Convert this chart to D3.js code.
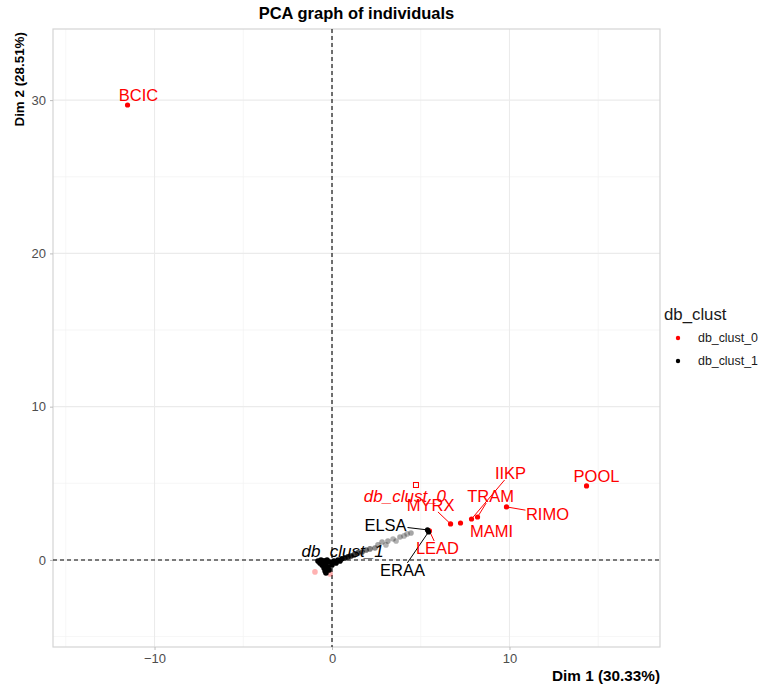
<!DOCTYPE html>
<html>
<head>
<meta charset="utf-8">
<script src="https://cdn.jsdelivr.net/npm/d3@7"></script>
<style>
  body { margin: 0; background: #fff; }
  text { font-family: "Liberation Sans", Arial, sans-serif; }
</style>
</head>
<body>
<svg id="chart"></svg>
<script>
// labelled individuals (cluster, Dim1, Dim2)
var names = ['BCIC', 'POOL', 'RIMO', 'IIKP', 'TRAM', 'MAMI', 'MYRX', 'LEAD', 'ELSA', 'ERAA'];
var nameCluster = ['db_clust_0', 'db_clust_0', 'db_clust_0', 'db_clust_0', 'db_clust_0', 'db_clust_0', 'db_clust_0', 'db_clust_0', 'db_clust_1', 'db_clust_1'];
var nameDim1 = [-11.52, 14.34, 9.83, 7.86, 8.2, 7.24, 6.68, 5.49, 5.38, 5.44];
var nameDim2 = [29.68, 4.83, 3.46, 2.67, 2.8, 2.41, 2.35, 1.89, 1.96, 1.83];

// unlabelled individuals (cos2 drives transparency)
var restCluster = ['db_clust_0', 'db_clust_0'].concat(d3.range(38).map(() => 'db_clust_1'));
var restDim1 = [-0.96, -0.11,
  -0.79, -0.68, -0.56, -0.45, -0.39, -0.34, -0.62, -0.45, -0.34, -0.23,
  -0.17, -0.28, -0.11, 0.0, 0.11, 0.23, 0.34, 0.45, 0.56, 0.73,
  0.9, 1.07, 1.24, 1.46, 1.69, 1.92, 2.14, 2.42,
  2.59, 2.82, 3.04, 3.15, 3.44, 3.61, 3.83, 4.06, 4.23, 4.45];
var restDim2 = [-0.78, -0.91,
  -0.07, -0.2, -0.33, -0.52, -0.72, -0.85, 0.0, -0.07, -0.26, -0.46,
  -0.65, 0.0, -0.13, -0.33, -0.07, -0.2, 0.0, -0.07, 0.07, 0.13,
  0.2, 0.26, 0.33, 0.46, 0.52, 0.65, 0.72, 0.78,
  0.98, 1.17, 0.98, 1.24, 1.37, 1.24, 1.5, 1.57, 1.7, 1.76];
var restCos2 = [0.3, 0.3,
  1, 1, 1, 1, 1, 1, 1, 1, 1, 1,
  1, 1, 1, 1, 1, 1, 1, 1, 1, 0.9,
  0.85, 0.8, 0.75, 0.7, 0.6, 0.55, 0.5, 0.45,
  0.35, 0.35, 0.3, 0.35, 0.3, 0.3, 0.35, 0.3, 0.3, 0.35];

// cluster centres
var centreName = ['db_clust_0', 'db_clust_1'];
var centreDim1 = [4.73, 0.2];
var centreDim2 = [4.89, -0.05];

var clusters = ['db_clust_0', 'db_clust_1'];
var xTicks = [-10, 0, 10];
var yTicks = [0, 10, 20, 30];

// label placement (pixel nudges, as a repel layout would give)
var labelDx = [11, 10, 41, 39, 13, 31, -20, 8, -42, -26];
var labelDy = [-10, -10, 7, -46, -21, 8, -19, 17, -5, 38];
var labelSegment = [false, false, true, true, true, false, true, true, true, true];

document.addEventListener('DOMContentLoaded', () => {
  var W = 761, H = 687;
  var panel = { left: 53, right: 660, top: 29, bottom: 647 };

  var svg = d3.select('#chart').attr('width', W).attr('height', H);

  var x = d3.scaleLinear().domain([-15.72, 18.48]).range([panel.left, panel.right]);
  var y = d3.scaleLinear().domain([-5.68, 34.64]).range([panel.bottom, panel.top]);
  var colour = d3.scaleOrdinal().domain(clusters).range(['#ff0000', '#000000']);
  var alpha = d3.scaleLinear().domain([0, 1]).range([0, 1]);

  // grid
  var grid = svg.append('g');
  var minorX = [-15, -5, 5, 15], minorY = [-5, 5, 15, 25];
  grid.selectAll('.mx').data(minorX).enter().append('line')
    .attr('x1', d => x(d)).attr('x2', d => x(d)).attr('y1', panel.top).attr('y2', panel.bottom)
    .attr('stroke', '#f2f2f2').attr('stroke-width', 0.7);
  grid.selectAll('.my').data(minorY).enter().append('line')
    .attr('y1', d => y(d)).attr('y2', d => y(d)).attr('x1', panel.left).attr('x2', panel.right)
    .attr('stroke', '#f2f2f2').attr('stroke-width', 0.7);
  grid.selectAll('.gx').data(xTicks).enter().append('line')
    .attr('x1', d => x(d)).attr('x2', d => x(d)).attr('y1', panel.top).attr('y2', panel.bottom)
    .attr('stroke', '#ebebeb').attr('stroke-width', 1.1);
  grid.selectAll('.gy').data(yTicks).enter().append('line')
    .attr('y1', d => y(d)).attr('y2', d => y(d)).attr('x1', panel.left).attr('x2', panel.right)
    .attr('stroke', '#ebebeb').attr('stroke-width', 1.1);

  svg.append('rect')
    .attr('x', panel.left).attr('y', panel.top)
    .attr('width', panel.right - panel.left).attr('height', panel.bottom - panel.top)
    .attr('fill', 'none').attr('stroke', '#d4d4d4').attr('stroke-width', 1.2);

  // axes
  var xAxis = d3.axisBottom(x).tickValues(xTicks).tickSize(3).tickPadding(4);
  var yAxis = d3.axisLeft(y).tickValues(yTicks).tickSize(3).tickPadding(4);
  var gx = svg.append('g').attr('transform', `translate(0, ${ panel.bottom })`).call(xAxis);
  var gy = svg.append('g').attr('transform', `translate(${ panel.left }, 0)`).call(yAxis);
  [gx, gy].forEach(g => {
    g.select('.domain').remove();
    g.selectAll('line').attr('stroke', '#bdbdbd');
    g.selectAll('text').attr('fill', '#4d4d4d').style('font-size', '13px')
      .style('font-family', '"Liberation Sans", Arial, sans-serif');
  });

  // reference lines
  svg.append('line').attr('x1', x(0)).attr('x2', x(0)).attr('y1', panel.top).attr('y2', panel.bottom)
    .attr('stroke', '#000').attr('stroke-dasharray', '4,3').attr('stroke-width', 1.1);
  svg.append('line').attr('y1', y(0)).attr('y2', y(0)).attr('x1', panel.left).attr('x2', panel.right)
    .attr('stroke', '#000').attr('stroke-dasharray', '4,3').attr('stroke-width', 1.1);

  // unlabelled points
  var rest = restDim1.map((d, i) => ({ x: d, y: restDim2[i], c: restCluster[i], a: restCos2[i] }));
  svg.append('g').selectAll('circle').data(rest).enter().append('circle')
    .attr('cx', d => x(d.x)).attr('cy', d => y(d.y)).attr('r', 2.8)
    .attr('fill', d => colour(d.c)).attr('fill-opacity', d => alpha(d.a));

  // labelled points
  var lab = names.map((n, i) => ({ n: n, x: nameDim1[i], y: nameDim2[i], c: nameCluster[i],
    dx: labelDx[i], dy: labelDy[i], seg: labelSegment[i] }));

  var segs = svg.append('g');
  lab.filter(d => d.seg).forEach(d => {
    var px = x(d.x), py = y(d.y);
    var lx = px + d.dx, ly = py + d.dy;
    // stop the segment at the label box
    var hw = d.n.length * 5.5, hh = 7;
    var t = Math.min(Math.abs(hw / (d.dx || 1e-6)), Math.abs(hh / (d.dy || 1e-6)), 1);
    segs.append('line')
      .attr('x1', px).attr('y1', py)
      .attr('x2', lx - d.dx * t).attr('y2', ly - d.dy * t)
      .attr('stroke', colour(d.c)).attr('stroke-width', 1);
  });

  svg.append('g').selectAll('circle').data(lab).enter().append('circle')
    .attr('cx', d => x(d.x)).attr('cy', d => y(d.y)).attr('r', 2.6)
    .attr('fill', d => colour(d.c));

  svg.append('g').selectAll('text').data(lab).enter().append('text')
    .attr('x', d => x(d.x) + d.dx).attr('y', d => y(d.y) + d.dy)
    .attr('text-anchor', 'middle').attr('dominant-baseline', 'central')
    .attr('fill', d => colour(d.c)).style('font-size', '16.5px')
    .text(d => d.n);

  // cluster centres
  var centres = centreName.map((n, i) => ({ n: n, x: centreDim1[i], y: centreDim2[i] }));
  svg.append('g').selectAll('rect').data(centres.slice(0, 1)).enter().append('rect')
    .attr('x', d => x(d.x) - 2.5).attr('y', d => y(d.y) - 2.5).attr('width', 5).attr('height', 5)
    .attr('fill', 'none').attr('stroke', d => colour(d.n)).attr('stroke-width', 1);
  var centreDx = [-11, 7], centreDy = [12, -9];
  svg.append('g').selectAll('text').data(centres).enter().append('text')
    .attr('x', (d, i) => x(d.x) + centreDx[i]).attr('y', (d, i) => y(d.y) + centreDy[i])
    .attr('text-anchor', 'middle').attr('dominant-baseline', 'central')
    .attr('fill', d => colour(d.n)).style('font-size', '17px').style('font-style', 'italic')
    .text(d => d.n);

  // titles
  svg.append('text').attr('x', (panel.left + panel.right) / 2 + 0).attr('y', 19)
    .attr('text-anchor', 'middle').style('font-size', '16.5px').style('font-weight', 'bold')
    .text('PCA graph of individuals');
  svg.append('text').attr('x', panel.right).attr('y', 681)
    .attr('text-anchor', 'end').style('font-size', '15.3px').style('font-weight', 'bold')
    .text('Dim 1 (30.33%)');
  svg.append('text').attr('transform', `translate(24, ${ panel.top + 3 }) rotate(-90)`)
    .attr('text-anchor', 'end').style('font-size', '13.4px').style('font-weight', 'bold')
    .text('Dim 2 (28.51%)');

  // legend
  var legend = svg.append('g').attr('transform', 'translate(664, 320)');
  legend.append('text').attr('x', 0).attr('y', 0).style('font-size', '16.8px').attr('fill', '#1a1a1a')
    .text('db_clust');
  var item = legend.selectAll('.item').data(clusters).enter().append('g')
    .attr('transform', (d, i) => `translate(0, ${ 18 + i * 23 })`);
  item.append('circle').attr('cx', 14).attr('cy', 0).attr('r', 2.2).attr('fill', d => colour(d));
  item.append('text').attr('x', 34).attr('y', 0).attr('dominant-baseline', 'central')
    .style('font-size', '12.4px').attr('fill', '#1a1a1a').text(d => d);
});
</script>
</body>
</html>
